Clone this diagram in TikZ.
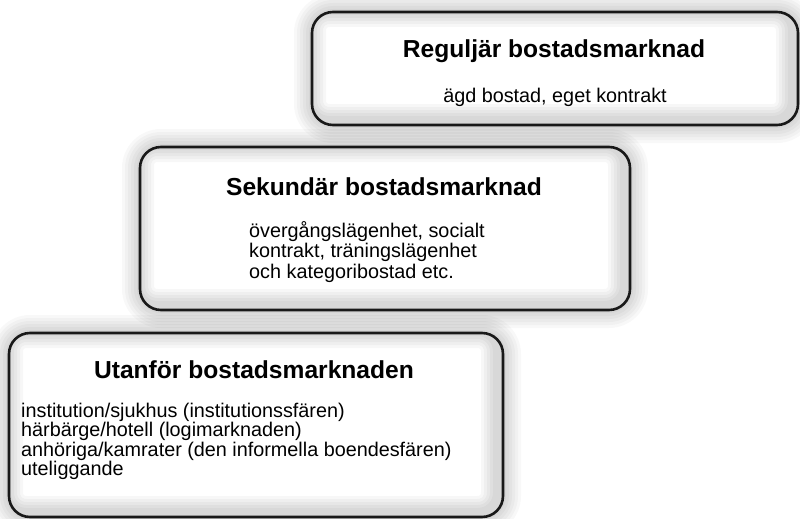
\documentclass[tikz,border=0pt]{standalone}
\usepackage{fontspec}
\setmainfont{Liberation Sans}
\begin{document}
\begin{tikzpicture}[x=1pt,y=-1pt,
  boxshape/.style={rectangle,rounded corners=21pt,fill=white,inner sep=0pt,outer sep=0pt},
  title/.style={anchor=base,inner sep=0pt,font=\fontsize{24.6}{27}\selectfont\bfseries},
  body/.style={anchor=base west,inner sep=0pt,font=\fontsize{19.8}{21}\selectfont},
  bodyc/.style={anchor=base,inner sep=0pt,font=\fontsize{19.8}{21}\selectfont},
  rim/.style={draw=black!90,line width=2.6pt,rounded corners=21pt}
]
\useasboundingbox[fill=white] (0,0) rectangle (800,519);

% generic box drawing: glow, fill, inner shadow, border
\newcommand\mybox[5]{% name, cx, cy, w, h
  \coordinate (#1c) at (#2,#3);
  \foreach \e in {18,15,12,9,6,3}{
    \fill[black,opacity=0.028,rounded corners=21pt+\e pt]
      ([shift={(-#4/2*1pt-\e pt,#5/2*1pt+\e pt)}]#1c) rectangle
      ([shift={(#4/2*1pt+\e pt,-#5/2*1pt-\e pt)}]#1c);
  }
  \node[boxshape,minimum width=#4pt,minimum height=#5pt] (#1) at (#1c) {};
  \begin{scope}
    \clip[rounded corners=21pt] (#1.north west) rectangle (#1.south east);
    \foreach \w in {36,30,24,18,12}{
      \draw[black,opacity=0.03,line width=\w pt,rounded corners=21pt]
        ([shift={(-4pt,3pt)}]#1.north west) rectangle ([shift={(-4pt,3pt)}]#1.south east);
    }
  \end{scope}
  \draw[rim] (#1.north west) rectangle (#1.south east);
}

\mybox{b1}{555}{68.5}{486}{113}
\node[title] (t1) at (554,58) {Reguljär bostadsmarknad};
\node[bodyc] (d1) at (555,102) {ägd bostad, eget kontrakt};

\mybox{b2}{385}{228.5}{490}{163}
\node[title] (t2) at (384,195) {Sekundär bostadsmarknad};
\node[body] (d2a) at (249,237) {övergångslägenhet, socialt};
\node[body] (d2b) at (249,257.5) {kontrakt, träningslägenhet};
\node[body] (d2c) at (249,278) {och kategoribostad etc.};

\mybox{b3}{256}{425}{494}{184}
\node[title] (t3) at (254,378) {Utanför bostadsmarknaden};
\node[body] (d3a) at (21,417) {institution/sjukhus (institutionssfären)};
\node[body] (d3b) at (21,436.5) {härbärge/hotell (logimarknaden)};
\node[body] (d3c) at (21,456) {anhöriga/kamrater (den informella boendesfären)};
\node[body] (d3d) at (21,475.5) {uteliggande};
\end{tikzpicture}
\end{document}
